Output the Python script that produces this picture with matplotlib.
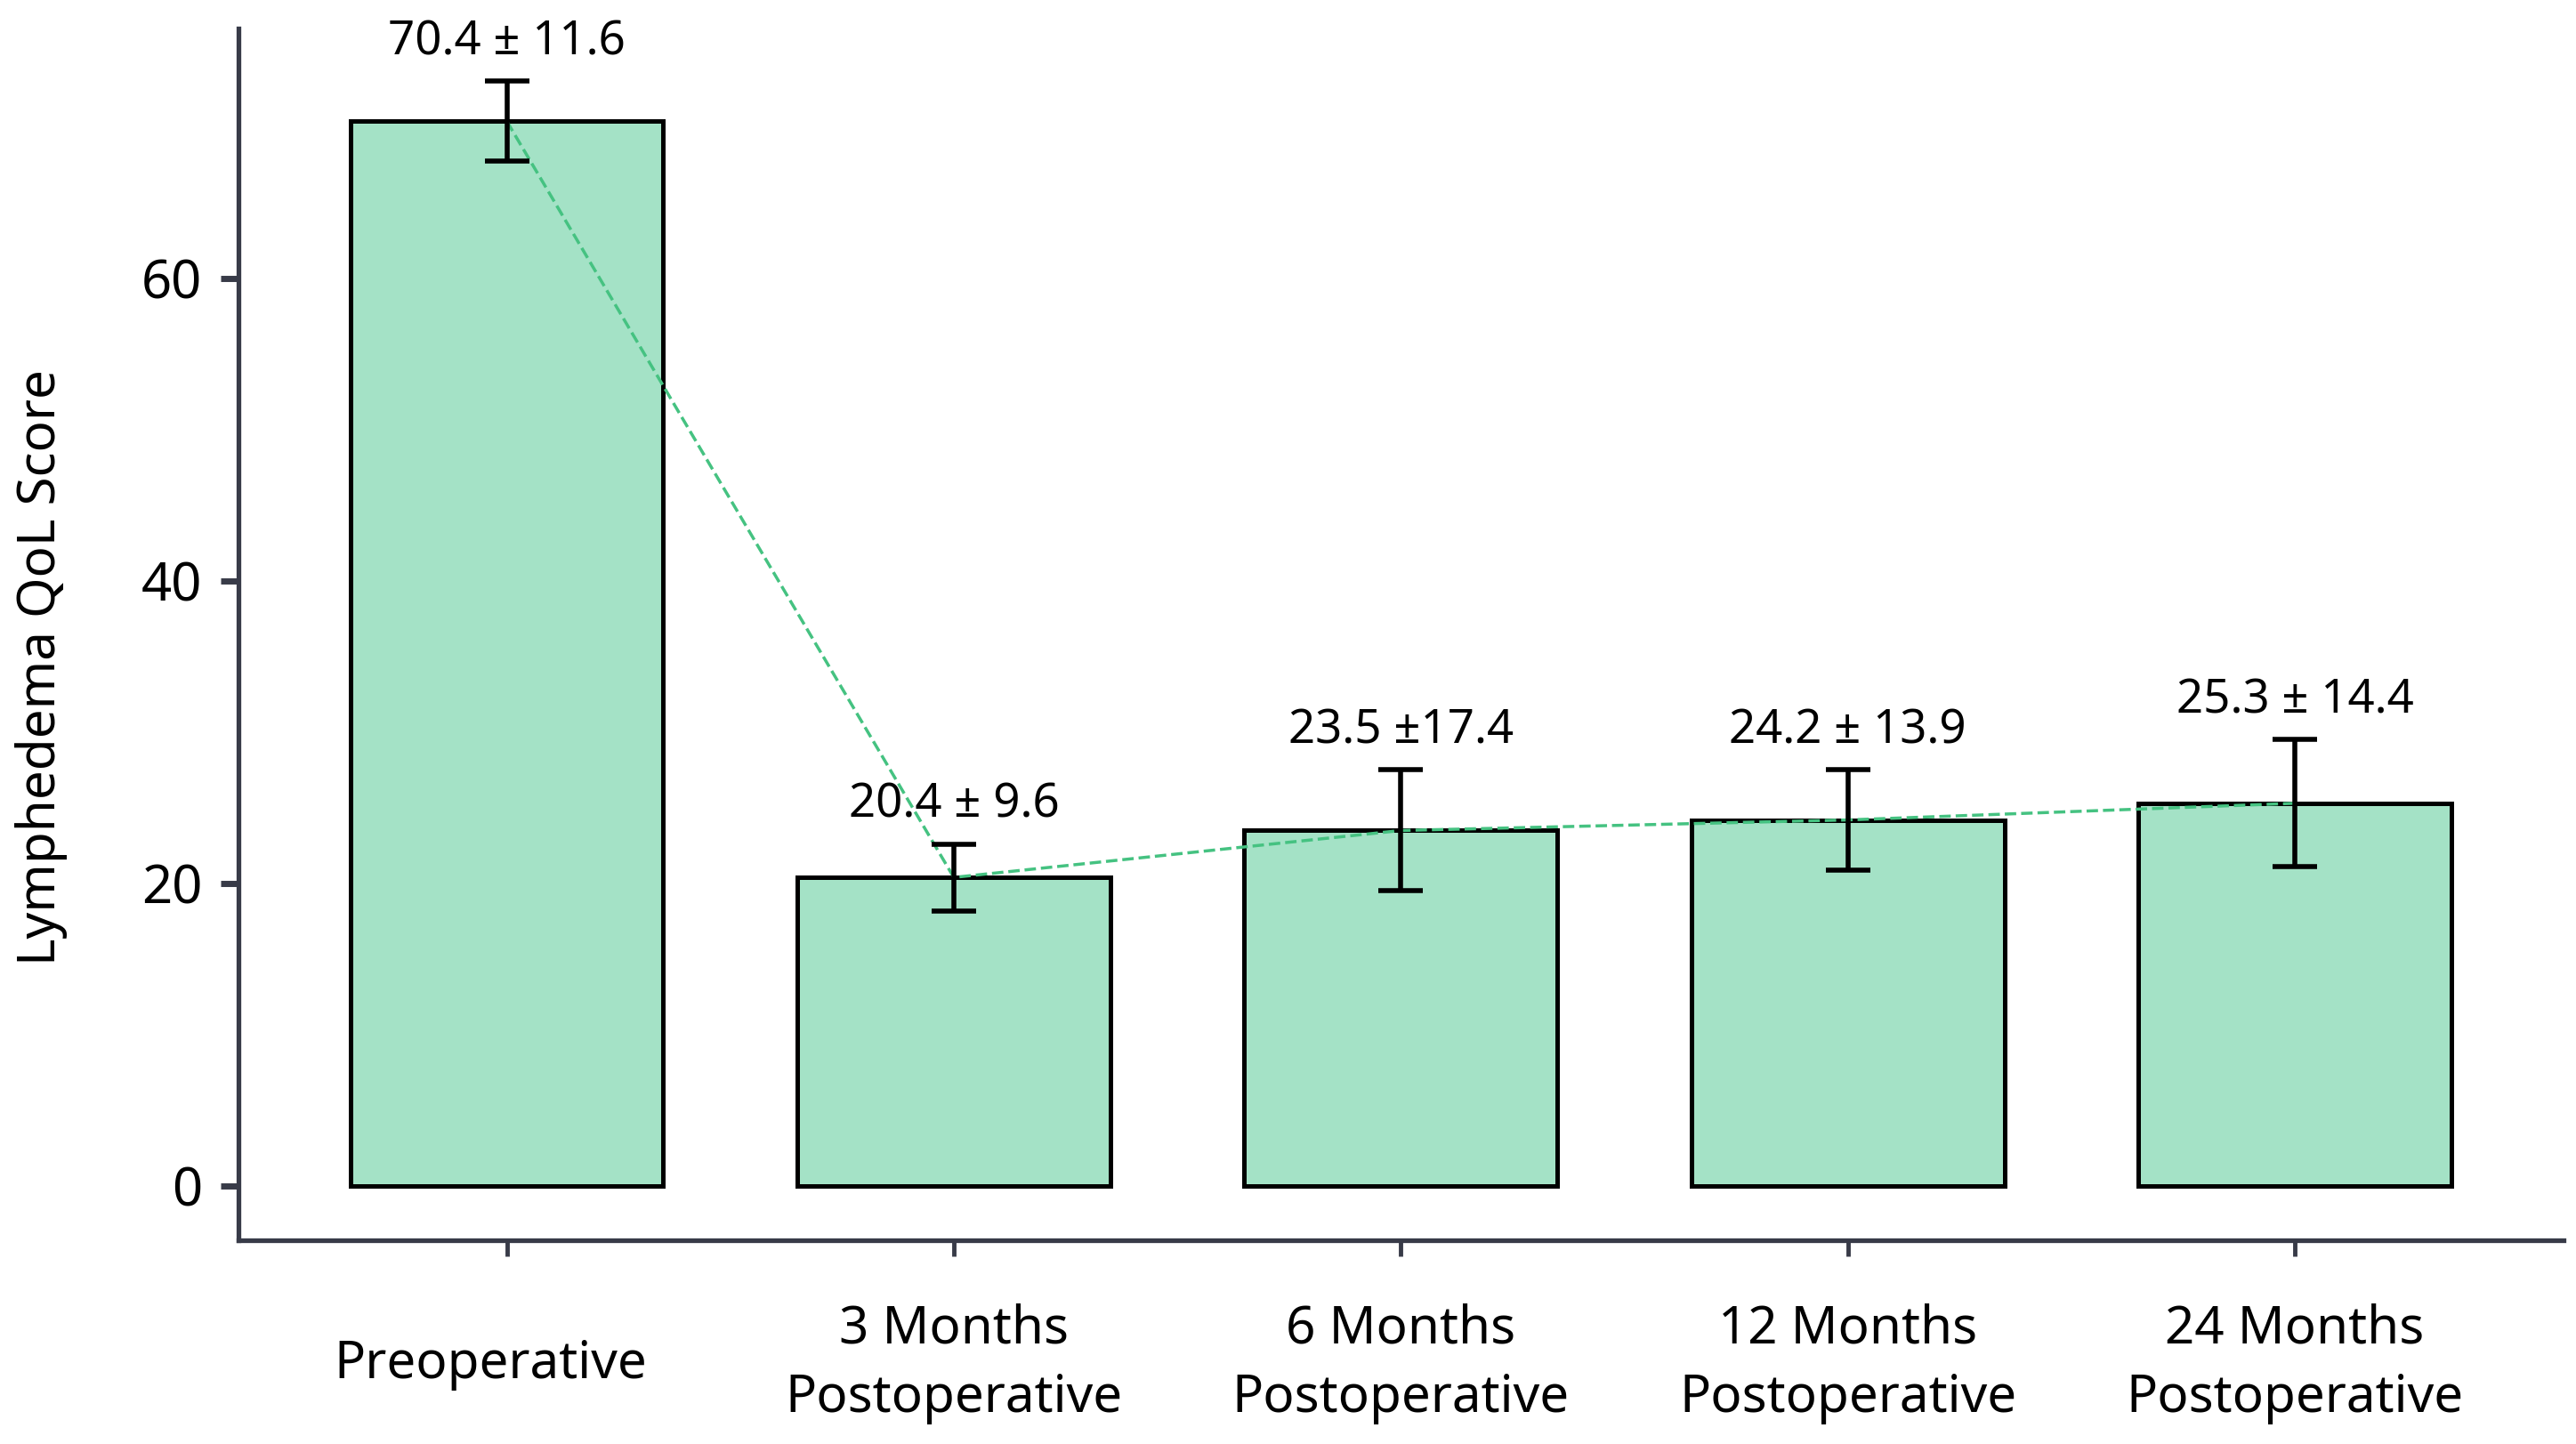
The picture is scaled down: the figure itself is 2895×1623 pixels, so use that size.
import matplotlib
matplotlib.use("Agg")
import matplotlib.pyplot as plt
import matplotlib.transforms as mtransforms

# data
phases = ["Preoperative", "3 Months\nPostoperative", "6 Months\nPostoperative",
          "12 Months\nPostoperative", "24 Months\nPostoperative"]
means = [70.4, 20.4, 23.5, 24.2, 25.3]
sds = [11.6, 9.6, 17.4, 13.9, 14.4]
# error bar half-lengths as drawn (smaller than the SD in the labels)
errs = [2.65, 2.2, 4.0, 3.3, 4.2]
value_labels = ["70.4 ± 11.6", "20.4 ± 9.6", "23.5 ±17.4", "24.2 ± 13.9", "25.3 ± 14.4"]
yticks = [0, 20, 40, 60]

plt.rcParams['font.family'] = ['Noto Sans', 'DejaVu Sans']

spine_color = "#383b48"
bar_color = "#a4e2c6"
line_color = "#45c281"

fig = plt.figure(figsize=(28.95, 16.23), dpi=100)
ax = fig.add_axes([0.0926, 0.141, 0.9024, 0.839])

x = list(range(len(phases)))
ax.bar(x, means, width=0.7, color=bar_color, edgecolor="black", linewidth=3.6, zorder=2)
ax.plot(x, means, linestyle="--", color=line_color, linewidth=2.5, zorder=3)
ax.errorbar(x, means, yerr=errs, fmt="none", ecolor="black", elinewidth=4,
            capsize=18, capthick=4, zorder=4)

# mean +/- SD text above each error bar
for xi, m, e, lab in zip(x, means, errs, value_labels):
    ax.annotate(lab, (xi, m + e), xytext=(0, 21.6), textcoords="offset points",
                ha="center", va="baseline", fontsize=38, color="black")

ax.set_xlim(-0.6, 4.6)
ax.set_ylim(-3.6, 76.5)
ax.set_yticks(yticks)
ax.set_xticks(x)
ax.set_xticklabels(phases, linespacing=1.42, va="center")

for side in ["top", "right"]:
    ax.spines[side].set_visible(False)
for side in ["left", "bottom"]:
    ax.spines[side].set_color(spine_color)
    ax.spines[side].set_linewidth(3.8)

ax.tick_params(axis="y", length=14.5, width=5, color=spine_color, labelsize=43, pad=15)
ax.tick_params(axis="x", length=13, width=3.5, color=spine_color, labelsize=42, pad=87)

# the single-line label sits a bit left of its tick in the original
first = ax.get_xticklabels()[0]
first.set_transform(first.get_transform() +
                    mtransforms.ScaledTranslation(-13 / 72, 0, fig.dpi_scale_trans))

ax.set_ylabel("Lymphedema QoL Score", fontsize=42, va="center")
ax.yaxis.set_label_coords(-0.085, 0.473)

fig.savefig("out.png", dpi=100)
